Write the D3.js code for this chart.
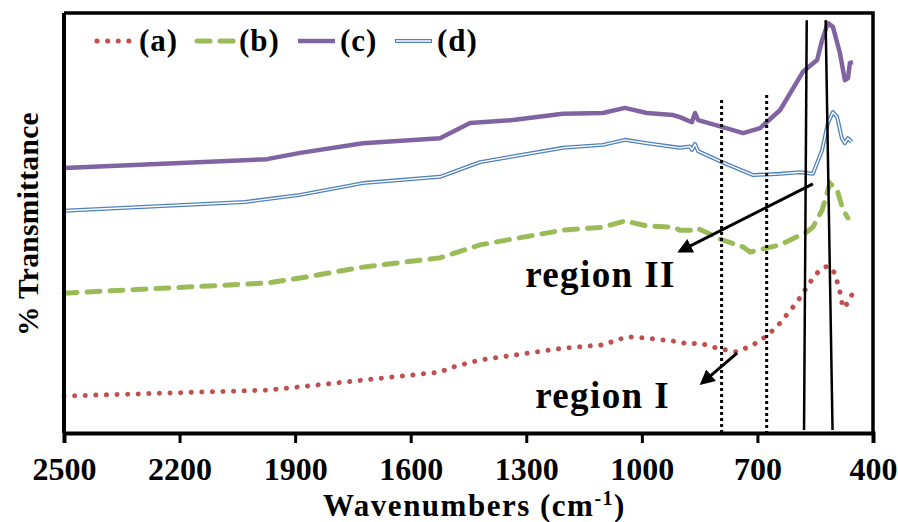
<!DOCTYPE html>
<html>
<head>
<meta charset="utf-8">
<script src="https://cdn.jsdelivr.net/npm/d3@7"></script>
<style>
  body { margin: 0; background: #fff; }
  svg text { font-family: "Liberation Serif", "Times New Roman", serif; font-weight: bold; fill: #000; }
</style>
</head>
<body>
<div id="chart"></div>
<script>
// wavenumber (cm-1) / transmittance pairs
var seriesA = [[2500,8.8],[1973,10.2],[1887,11.0],[1724,12.6],[1524,14.5],[1490,15.7],[1420,17.4],[1205,20.2],[1101,21.0],[1039,22.9],[987,22.6],[901,21.7],[883,21.2],[849,21.4],[805,20.2],[753,19.3],[711,21.0],[673,23.3],[641,26.2],[597,31.2],[571,34.8],[556,36.9],[538,38.8],[517,39.8],[499,38.1],[486,33.6],[478,29.8],[465,31.0],[455,32.9]];
var seriesB = [[2500,33.3],[1973,35.7],[1887,36.9],[1724,39.5],[1524,41.7],[1420,44.8],[1205,48.3],[1101,49.0],[1044,50.5],[987,49.3],[919,49.0],[901,48.3],[870,48.3],[857,48.8],[792,46.0],[737,44.3],[719,43.1],[641,44.8],[571,47.9],[556,49.0],[532,53.1],[512,59.5],[493,57.9],[478,53.1],[465,51.2]];
var seriesC = [[2500,63.1],[1973,65.2],[1887,66.7],[1724,69.0],[1524,70.2],[1446,73.8],[1335,74.5],[1205,76.0],[1101,76.2],[1044,77.4],[987,76.2],[919,75.7],[901,75.2],[870,74.0],[862,76.2],[854,74.5],[792,72.9],[737,71.4],[693,72.6],[641,76.9],[582,86.0],[545,88.8],[532,93.6],[517,97.6],[504,96.7],[486,90.5],[473,84.0],[465,84.5],[460,88.1],[452,88.3]];
var seriesD = [[2500,52.9],[2030,55.0],[1887,56.7],[1724,59.5],[1524,61.0],[1420,64.5],[1205,67.9],[1101,68.6],[1044,69.8],[987,69.0],[901,67.9],[875,68.2],[870,67.4],[862,68.8],[854,67.1],[792,64.5],[711,61.4],[641,61.7],[590,62.1],[556,61.7],[532,67.4],[517,73.8],[504,76.4],[493,75.2],[481,70.2],[473,69.0],[465,70.2],[455,69.3]];

var seriesNames = ["(a)", "(b)", "(c)", "(d)"];
var xTicks = [2500, 2200, 1900, 1600, 1300, 1000, 700, 400];

// marker lines: [wavenumber top, T top, wavenumber bottom, T bottom]
var dottedLines = [[793, 79.3, 793, 0], [676, 80.5, 676, 0]];
var solidLines = [[572, 98.3, 579, 0.7], [523, 98.3, 505, 0.7]];
// arrows: [from w, from T, to w, to T]
var arrows = [[556, 59.3, 901, 43.3], [753, 19.0, 844, 11.9]];
var regionLabels = [["region II", 1303, 34.8], ["region I", 1277, 6.0]];

var W = 898, H = 522;
var margin = {top: 13, right: 25, bottom: 89, left: 64};
var width = W - margin.left - margin.right,
    height = H - margin.top - margin.bottom;

var svg = d3.select("#chart").append("svg")
    .attr("width", W)
    .attr("height", H)
  .append("g")
    .attr("transform", "translate(" + margin.left + "," + margin.top + ")");

var xScale = d3.scaleLinear().domain([2500, 400]).range([0, width]);
var yScale = d3.scaleLinear().domain([0, 100]).range([height, 0]);

var line = d3.line()
    .x(function(d) { return xScale(d[0]); })
    .y(function(d) { return yScale(d[1]); });

// frame (top and right)
svg.append("path")
    .attr("d", "M0,0H" + width + "V" + height)
    .style("fill", "none")
    .style("stroke", "#000")
    .style("stroke-width", 3.5);

// series
var red = "#C0504D", green = "#9BBB59", purple = "#8064A2", blue = "#4F81BD";

svg.append("path").datum(seriesA).attr("d", line)
    .style("fill", "none").style("stroke", red).style("stroke-width", 5)
    .style("stroke-linecap", "round").style("stroke-dasharray", "0.1 10.5");

svg.append("path").datum(seriesB).attr("d", line)
    .style("fill", "none").style("stroke", green).style("stroke-width", 5)
    .style("stroke-linecap", "round").style("stroke-dasharray", "13 10");

svg.append("path").datum(seriesC).attr("d", line)
    .style("fill", "none").style("stroke", purple).style("stroke-width", 4.5)
    .style("stroke-linejoin", "round");

svg.append("path").datum(seriesD).attr("d", line)
    .style("fill", "none").style("stroke", blue).style("stroke-width", 4)
    .style("stroke-linejoin", "round");
svg.append("path").datum(seriesD).attr("d", line)
    .style("fill", "none").style("stroke", "#fff").style("stroke-width", 1.4)
    .style("stroke-linejoin", "round");

// marker lines
svg.selectAll(".dotted")
    .data(dottedLines)
    .enter().append("line")
    .attr("x1", function(d) { return xScale(d[0]); })
    .attr("y1", function(d) { return yScale(d[1]); })
    .attr("x2", function(d) { return xScale(d[2]); })
    .attr("y2", function(d) { return yScale(d[3]); })
    .style("stroke", "#000").style("stroke-width", 3).style("stroke-dasharray", "3 3");

svg.selectAll(".solid")
    .data(solidLines)
    .enter().append("line")
    .attr("x1", function(d) { return xScale(d[0]); })
    .attr("y1", function(d) { return yScale(d[1]); })
    .attr("x2", function(d) { return xScale(d[2]); })
    .attr("y2", function(d) { return yScale(d[3]); })
    .style("stroke", "#000").style("stroke-width", 2.5);

// arrows
svg.append("defs").append("marker")
    .attr("id", "head")
    .attr("viewBox", "0 0 10 10")
    .attr("refX", 8).attr("refY", 5)
    .attr("markerWidth", 5).attr("markerHeight", 5)
    .attr("orient", "auto")
  .append("path")
    .attr("d", "M0,0L10,5L0,10z")
    .style("fill", "#000");

svg.selectAll(".arrow")
    .data(arrows)
    .enter().append("line")
    .attr("x1", function(d) { return xScale(d[0]); })
    .attr("y1", function(d) { return yScale(d[1]); })
    .attr("x2", function(d) { return xScale(d[2]); })
    .attr("y2", function(d) { return yScale(d[3]); })
    .style("stroke", "#000").style("stroke-width", 3)
    .attr("marker-end", "url(#head)");

svg.selectAll(".region")
    .data(regionLabels)
    .enter().append("text")
    .attr("x", function(d) { return xScale(d[1]); })
    .attr("y", function(d) { return yScale(d[2]); })
    .style("font-size", "37px")
    .style("letter-spacing", "1.4px")
    .text(function(d) { return d[0]; });

// axes
var xAxis = svg.append("g")
    .attr("class", "x axis")
    .attr("transform", "translate(0," + height + ")")
    .call(d3.axisBottom(xScale).tickValues(xTicks).tickSize(10).tickFormat(d3.format("d")));
xAxis.select(".domain").style("stroke-width", 4);
xAxis.selectAll(".tick line").style("stroke-width", 3);
xAxis.selectAll(".tick text")
    .attr("y", 47).attr("dy", 0)
    .style("font-size", "32px");

svg.append("line")
    .attr("x1", 0).attr("y1", 0).attr("x2", 0).attr("y2", height)
    .style("stroke", "#000").style("stroke-width", 4);

// axis titles
var xt = svg.append("text")
    .attr("transform", "translate(" + (width / 2 + 6) + "," + (height + 83) + ")")
    .style("font-size", "31px")
    .style("letter-spacing", "1.5px")
    .style("text-anchor", "middle");
xt.append("tspan").text("Wavenumbers (cm");
xt.append("tspan").attr("dy", -11).style("font-size", "20px").text("-1");
xt.append("tspan").attr("dy", 11).text(")");

svg.append("text")
    .attr("transform", "translate(" + (38 - margin.left) + "," + (height / 2 + 1) + ") rotate(-90)")
    .style("font-size", "29.5px")
    .style("letter-spacing", "0.3px")
    .style("text-anchor", "middle")
    .text("% Transmittance");

// legend
var legendStyles = [
  {color: red, width: 5, dash: "0.1 10.5", cap: "round"},
  {color: green, width: 5, dash: "13 10", cap: "round"},
  {color: purple, width: 4.5, dash: null, cap: "butt"},
  {color: blue, width: 4, dash: null, cap: "butt", dbl: true}
];
var legendX = [33, 133, 234, 331];
var legend = svg.selectAll(".legend")
    .data(seriesNames)
    .enter().append("g")
    .attr("class", "legend")
    .attr("transform", function(d, i) { return "translate(" + legendX[i] + ",28)"; });

legend.append("line")
    .attr("x1", 0).attr("x2", 37).attr("y1", 0).attr("y2", 0)
    .style("stroke", function(d, i) { return legendStyles[i].color; })
    .style("stroke-width", function(d, i) { return legendStyles[i].width; })
    .style("stroke-dasharray", function(d, i) { return legendStyles[i].dash; })
    .style("stroke-linecap", function(d, i) { return legendStyles[i].cap; });
legend.filter(function(d, i) { return legendStyles[i].dbl; }).append("line")
    .attr("x1", 1).attr("x2", 36).attr("y1", 0).attr("y2", 0)
    .style("stroke", "#fff").style("stroke-width", 1.4);

legend.append("text")
    .attr("x", 42).attr("y", 10)
    .style("font-size", "31px")
    .style("letter-spacing", "1px")
    .text(function(d) { return d; });
</script>
</body>
</html>
